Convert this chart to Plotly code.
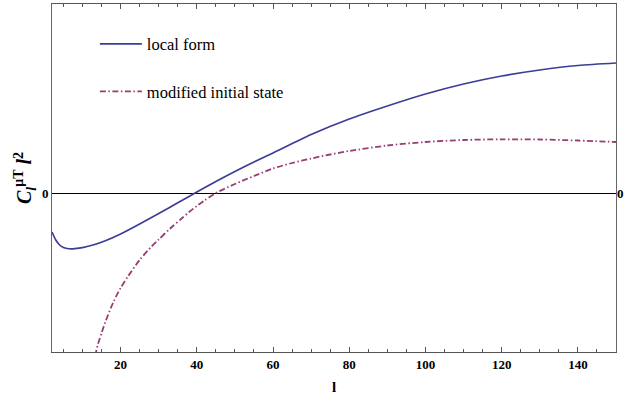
import plotly.graph_objects as go

# Data (y in arbitrary units, 0 = zero line)
l_local = [2, 3, 4, 5, 6, 7, 8, 10, 13, 16, 20, 25, 30, 35, 40, 45, 50, 55, 60, 70, 80, 90, 100, 110, 120, 130, 140, 150]
c_local = [-39, -47, -52, -54.5, -55.5, -55.8, -55.6, -54.6, -51.8, -47.8, -41, -31, -20.5, -9.8, 1, 11.5, 21.5, 31, 40, 58.5, 74, 87, 99, 109, 117, 123, 127.5, 130]

l_mod = [12.5, 13.5, 14, 15, 16, 18, 20, 22, 25, 28, 30, 33, 36, 38, 40, 42, 45, 50, 55, 60, 65, 70, 75, 80, 90, 100, 110, 120, 130, 140, 150]
c_mod = [-175, -160, -152, -140, -129, -110, -95, -83, -67, -54, -46.5, -35.5, -25.5, -19, -13, -7.5, 0, 9, 17, 24.5, 30, 34.5, 38.5, 42, 47.5, 51, 53, 53.7, 53.5, 52.5, 51]

x_ticks = [20, 40, 60, 80, 100, 120, 140]
y_ticks = [0]
y_range = [-159, 189]

font_serif = "Liberation Serif, Times New Roman, serif"

fig = go.Figure()
fig.add_trace(go.Scatter(x=l_local, y=c_local, mode="lines", name="local form", legendgroup="a",
                         line=dict(color="#3d3d99", width=1.7, shape="spline", smoothing=0.8)))
fig.add_trace(go.Scatter(x=l_mod, y=c_mod, mode="lines", name="modified initial state", legendgroup="b",
                         line=dict(color="#993d71", width=1.8, dash="6px,2.5px,1.5px,2.5px", shape="spline", smoothing=0.8)))
# invisible trace for right axis
fig.add_trace(go.Scatter(x=[l_local[0]], y=[0], yaxis="y2", mode="lines", showlegend=False,
                         hoverinfo="skip", line=dict(color="rgba(0,0,0,0)")))

fig.update_layout(
    width=642, height=401,
    margin=dict(l=52, r=26, t=4, b=49),
    paper_bgcolor="white", plot_bgcolor="white",
    font=dict(family=font_serif, color="black"),
    showlegend=True,
    legend=dict(x=0.076, y=0.935, xanchor="left", yanchor="top", itemwidth=42,
                bgcolor="rgba(0,0,0,0)", font=dict(size=16.5, family=font_serif),
                tracegroupgap=23, traceorder="grouped"),
    xaxis=dict(range=[2, 150], tickvals=x_ticks, ticktext=[f"<b>{v}</b>" for v in x_ticks],
               ticks="inside", ticklen=5,
               tickfont=dict(size=13, family=font_serif),
               showline=True, linecolor="#555", linewidth=1, mirror="ticks",
               showgrid=False, zeroline=False,
               minor=dict(dtick=5, tick0=0, ticks="inside", ticklen=3, tickcolor="#555"),
               tickcolor="#555",
               title=dict(text="<b>l</b>", font=dict(size=15, family=font_serif), standoff=10)),
    yaxis=dict(range=y_range, tickvals=y_ticks, ticktext=["<b>0</b>"], ticks="",
               tickfont=dict(size=13, family=font_serif),
               showline=True, linecolor="#666", linewidth=1, mirror=True,
               showgrid=False, zeroline=True, zerolinecolor="black", zerolinewidth=1,
               title=dict(text="<b><i>C</i><sub><i>l</i></sub><sup>μT</sup> <i>l</i><sup>2</sup></b>",
                          font=dict(size=20, family=font_serif), standoff=4)),
    yaxis2=dict(range=y_range, tickvals=y_ticks, ticktext=["<b>0</b>"], ticks="",
                overlaying="y", side="right", showline=False, showgrid=False, zeroline=False,
                tickfont=dict(size=13, family=font_serif)),
)

fig.write_html("out.html", config={"displayModeBar": False},
               post_script="document.body.style.margin='0';")
